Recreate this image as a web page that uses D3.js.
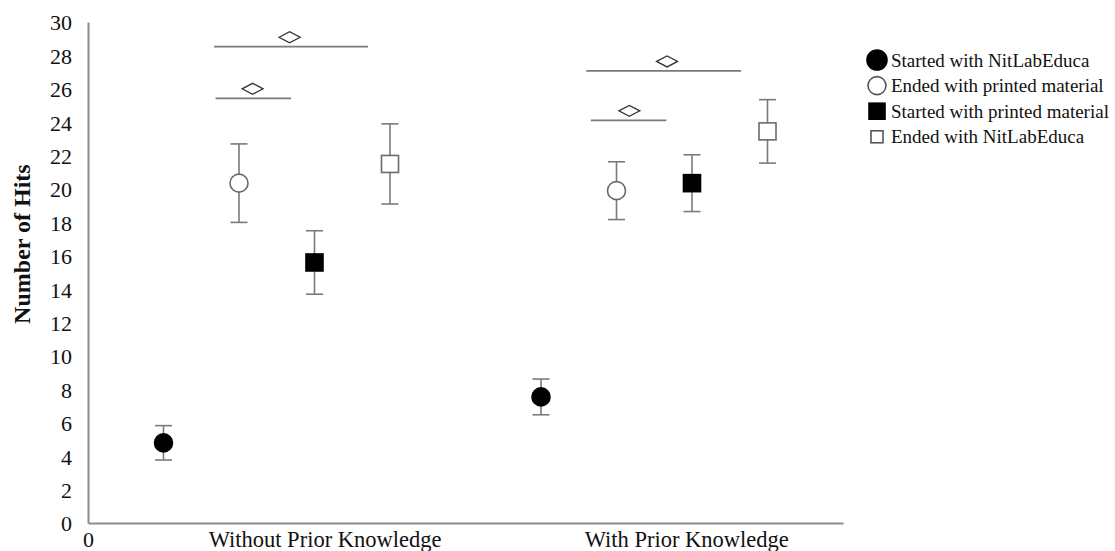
<!DOCTYPE html>
<html>
<head>
<meta charset="utf-8">
<script src="https://cdn.jsdelivr.net/npm/d3@7"></script>
<style>
  html, body { margin: 0; padding: 0; background: #fff; }
  svg, svg text { font-family: "Liberation Serif", "Times New Roman", serif !important; }
</style>
</head>
<body>
<svg id="chart" width="1115" height="551"></svg>
<script>
// Groups and series
const groups = ["Without Prior Knowledge", "With Prior Knowledge"];
const seriesNames = [
  "Started with NitLabEduca",
  "Ended with printed material",
  "Started with printed material",
  "Ended with NitLabEduca"
];
// Slot of each series inside a group (x units, group offset added below)
const seriesSlot = [1, 2, 3, 4];
const groupOffset = [0, 5];

// Mean number of hits per group
const startedNitLab   = [4.8, 7.55];
const endedPrinted    = [20.35, 19.9];
const startedPrinted  = [15.6, 20.35];
const endedNitLab     = [21.5, 23.45];
// Error bar half-widths
const startedNitLabErr  = [1.03, 1.07];
const endedPrintedErr   = [2.35, 1.73];
const startedPrintedErr = [1.9, 1.7];
const endedNitLabErr    = [2.4, 1.9];

// Significance bars: start, end, level, diamond position
const sigX1   = [1.67, 1.69, 6.6, 6.66];
const sigX2   = [3.71, 2.69, 8.65, 7.66];
const sigY    = [28.52, 25.43, 27.07, 24.11];
const sigMark = [2.67, 2.18, 7.67, 7.17];

const yTicks = d3.range(0, 31, 2);

const means = [startedNitLab, endedPrinted, startedPrinted, endedNitLab];
const errs  = [startedNitLabErr, endedPrintedErr, startedPrintedErr, endedNitLabErr];
const shapes = [
  { kind: "circle", fill: "#000" },
  { kind: "circle", fill: "#fff" },
  { kind: "square", fill: "#000" },
  { kind: "square", fill: "#fff" }
];

const svg = d3.select("#chart");
const x = d3.scaleLinear().domain([0, 10]).range([88, 843]);
const y = d3.scaleLinear().domain([0, 30]).range([523, 22]);
const axisGrey = "#8c8c8c";
const barGrey = "#7a7a7a";

// Axes
const yAxis = svg.append("g")
  .attr("transform", `translate(${x(0)},0)`)
  .call(d3.axisLeft(y).tickValues(yTicks).tickSize(0).tickPadding(16));
yAxis.attr("font-family", null);
yAxis.select(".domain").attr("stroke", axisGrey).attr("stroke-width", 2);
yAxis.selectAll("text")
  .attr("font-size", 22)
  .attr("fill", "#111")
  .attr("dy", "0.36em");

const xAxis = svg.append("g")
  .attr("transform", `translate(0,${y(0)})`)
  .call(d3.axisBottom(x).tickValues([0]).tickSize(0).tickPadding(8));
xAxis.attr("font-family", null);
xAxis.select(".domain").attr("stroke", axisGrey).attr("stroke-width", 2);
xAxis.selectAll("text")
  .attr("font-size", 22)
  .attr("fill", "#111");

// Group labels
const groupCenters = [3.14, 7.93];
svg.selectAll("text.group")
  .data(groups)
  .join("text")
  .attr("class", "group")
  .attr("x", (d, i) => x(groupCenters[i]))
  .attr("y", 547)
  .attr("text-anchor", "middle")
  .attr("font-size", 22.5)
  .attr("fill", "#111")
  .text(d => d);

// Y axis title
svg.append("text")
  .attr("transform", `translate(30,${y(16.7)}) rotate(-90)`)
  .attr("text-anchor", "middle")
  .attr("font-size", 24)
  .attr("font-weight", "bold")
  .attr("fill", "#111")
  .text("Number of Hits");

// Points with error bars
const points = [];
means.forEach((vals, s) => {
  vals.forEach((v, g) => {
    points.push({ s, g, xv: seriesSlot[s] + groupOffset[g], v, e: errs[s][g] });
  });
});

const capHalf = 8.5;
const eb = svg.append("g").attr("stroke", barGrey).attr("stroke-width", 1.6);
points.forEach(p => {
  const cx = x(p.xv);
  eb.append("line").attr("x1", cx).attr("x2", cx).attr("y1", y(p.v - p.e)).attr("y2", y(p.v + p.e));
  eb.append("line").attr("x1", cx - capHalf).attr("x2", cx + capHalf).attr("y1", y(p.v + p.e)).attr("y2", y(p.v + p.e));
  eb.append("line").attr("x1", cx - capHalf).attr("x2", cx + capHalf).attr("y1", y(p.v - p.e)).attr("y2", y(p.v - p.e));
});

function drawMarker(sel, shape, cx, cy, size, strokeCol) {
  if (shape.kind === "circle") {
    sel.append("circle").attr("cx", cx).attr("cy", cy).attr("r", size / 2)
      .attr("fill", shape.fill).attr("stroke", shape.fill === "#000" ? "#000" : strokeCol).attr("stroke-width", 1.6);
  } else {
    sel.append("rect").attr("x", cx - size / 2).attr("y", cy - size / 2)
      .attr("width", size).attr("height", size)
      .attr("fill", shape.fill).attr("stroke", shape.fill === "#000" ? "#000" : strokeCol).attr("stroke-width", 1.6);
  }
}

const mk = svg.append("g");
points.forEach(p => {
  const sz = shapes[p.s].kind === "circle" ? 18 : 17;
  drawMarker(mk, shapes[p.s], x(p.xv), y(p.v), sz, "#6a6a6a");
});

// Significance bars with diamonds
const sg = svg.append("g");
sigY.forEach((lv, i) => {
  sg.append("line")
    .attr("x1", x(sigX1[i])).attr("x2", x(sigX2[i]))
    .attr("y1", y(lv)).attr("y2", y(lv))
    .attr("stroke", barGrey).attr("stroke-width", 1.8);
  const dx = x(sigMark[i]), dy = y(lv) - 9.5;
  sg.append("path")
    .attr("d", `M${dx - 10.5},${dy} L${dx},${dy - 5.5} L${dx + 10.5},${dy} L${dx},${dy + 5.5} Z`)
    .attr("fill", "#fff").attr("stroke", "#333").attr("stroke-width", 1.3);
});

// Legend
const legend = svg.append("g");
const legendSizes = [20, 18, 16, 12];
seriesNames.forEach((name, i) => {
  const ly = 60 + i * 25.6;
  drawMarker(legend, shapes[i], 877, ly, legendSizes[i], "#555");
  legend.append("text")
    .attr("x", 891)
    .attr("y", ly)
    .attr("dy", "0.35em")
    .attr("font-size", 19)
    .attr("fill", "#111")
    .text(name);
});
</script>
</body>
</html>
